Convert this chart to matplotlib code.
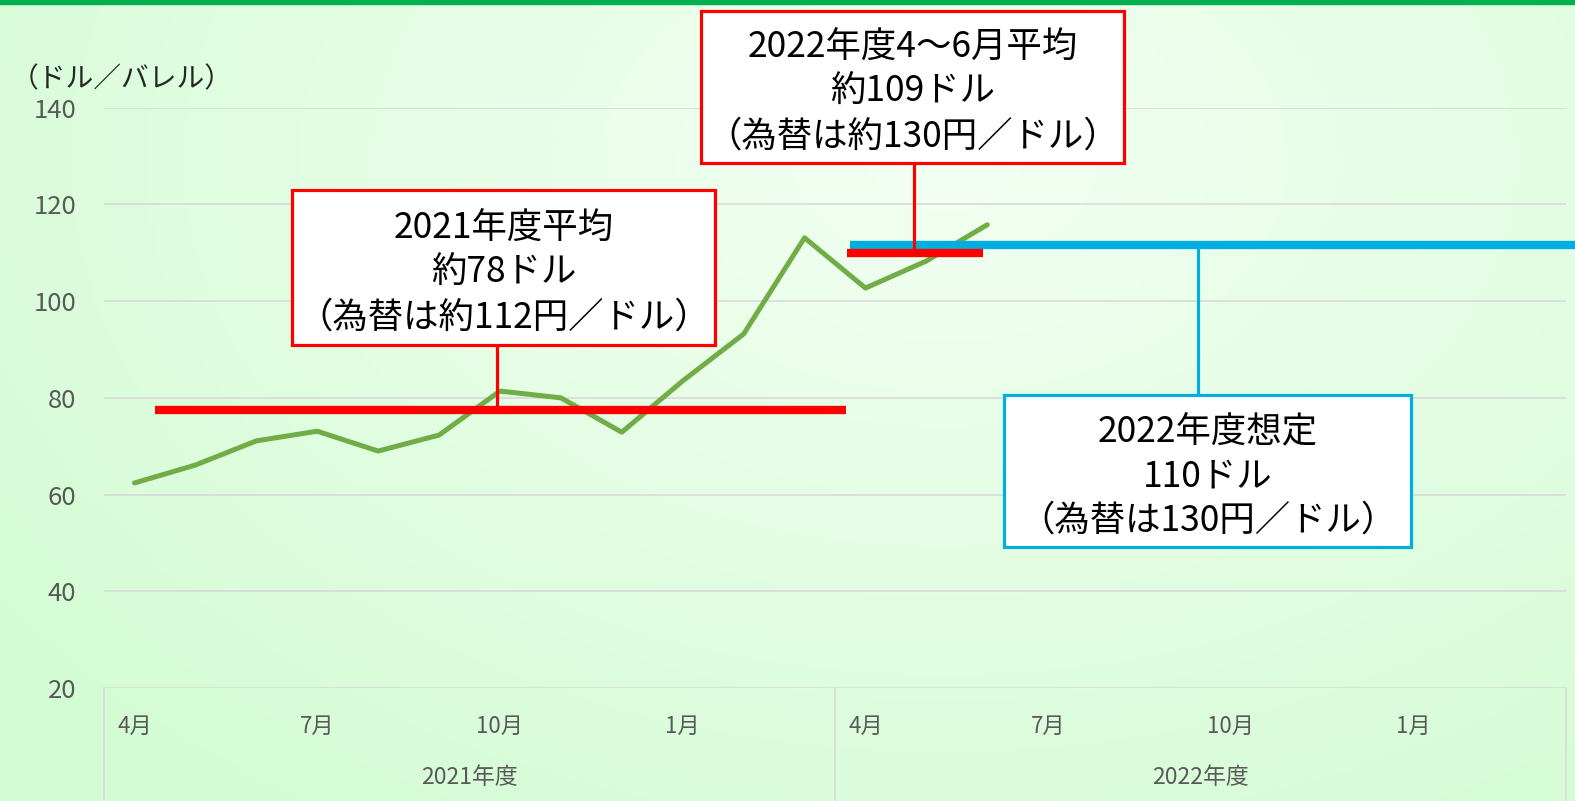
import numpy as np
import matplotlib.pyplot as plt
from matplotlib.patches import Rectangle
from matplotlib.transforms import blended_transform_factory

plt.rcParams['font.family'] = ['Noto Sans CJK JP', 'DejaVu Sans']

# monthly crude price (USD/bbl), Apr 2021 - Jun 2022
months = ['4月', '5月', '6月', '7月', '8月', '9月', '10月', '11月', '12月', '1月', '2月', '3月'] * 2
price = [62.4, 66.1, 71.1, 73.1, 69.0, 72.3, 81.4, 80.0, 72.9, 83.5, 93.2, 113.1,
         102.7, 108.3, 115.8]
years = ['2021年度', '2022年度']
avg_2021 = 77.5
avg_2022q2 = 109.9
assumed_2022 = 111.6
yticks = [20, 40, 60, 80, 100, 120, 140]

fig = plt.figure(figsize=(15.75, 8.01), dpi=100)

# background gradient
bg = fig.add_axes([0, 0, 1, 1], zorder=0)
gx, gy = np.meshgrid(np.linspace(0, 1, 400), np.linspace(0, 1, 200))
r = np.sqrt(((gx - 0.6) / 0.75) ** 2 + ((gy - 0.8) / 1.0) ** 2)
r = np.clip(r, 0, 1)
c0 = np.array([243, 255, 243]) / 255
c1 = np.array([212, 252, 212]) / 255
img = c0[None, None, :] * (1 - r[..., None]) + c1[None, None, :] * r[..., None]
bg.imshow(img, origin='lower', extent=[0, 1, 0, 1], aspect='auto')
bg.axis('off')
fig.patches.append(Rectangle((0, 1 - 4 / 801), 1, 4 / 801, transform=fig.transFigure,
                             color='#00B050', zorder=5))

ax = fig.add_axes([104 / 1575, 1 - 688 / 801, 1462 / 1575, 580.3 / 801], zorder=1)
ax.set_facecolor('none')
ax.set_xlim(-0.5, 23.5)
ax.set_ylim(20, 140)
for s in ax.spines.values():
    s.set_visible(False)
ax.set_yticks(yticks)
ax.tick_params(axis='y', length=0, pad=20, labelsize=18.5, labelcolor='#595959')
ax.set_xticks([])
ax.grid(axis='y', color='#d9d9d9', lw=1.2)
ax.set_axisbelow(True)

x = np.arange(len(price))
ax.plot(x, price, color='#70AD47', lw=3.6, solid_capstyle='round', zorder=3)

# category axis labels
tr = blended_transform_factory(ax.transData, ax.transAxes)
for i, m in enumerate(months):
    if i % 3 == 0:
        ax.text(i, -0.0655, m, transform=tr, ha='center', va='center',
                fontsize=16, color='#595959')
for j, yname in enumerate(years):
    ax.text(j * 12 + 5.5, -0.155, yname, transform=tr, ha='center', va='center',
            fontsize=16.5, color='#595959')
for xs in [-0.5, 11.5, 23.5]:
    ax.plot([xs, xs], [0, -0.25], transform=tr, color='#d9d9d9', lw=1.2, clip_on=False)

fig.text(11 / 1575, 1 - 79 / 801, '（ドル／バレル）', ha='left', va='center',
         fontsize=20, color='#262626')

# average lines
ax.plot([0.34, 11.68], [avg_2021, avg_2021], color='#FF0000', lw=6, solid_capstyle='butt', zorder=4)
ax.plot([11.75, 23.7], [assumed_2022, assumed_2022], color='#00AEDF', lw=6,
        solid_capstyle='butt', zorder=4, clip_on=False)
ax.plot([11.70, 13.93], [avg_2022q2, avg_2022q2], color='#FF0000', lw=6, solid_capstyle='butt', zorder=5)


def callout(x0, x1, y0, y1, cx, cy_to, color, text):
    ax.add_patch(Rectangle((x0, y0), x1 - x0, y1 - y0, facecolor='white', edgecolor=color,
                           lw=2.3, zorder=6, clip_on=False))
    cy_from = y0 if cy_to < y0 else y1
    ax.plot([cx, cx], [cy_from, cy_to], color=color, lw=2.3, zorder=4, clip_on=False)
    ax.text((x0 + x1) / 2, (y0 + y1) / 2 - 1.1, text, ha='center', va='center', fontsize=25.5,
            linespacing=1.3, color='black', zorder=7)


callout(2.59, 9.53, 90.9, 123.0, 5.95, avg_2021, '#FF0000',
        '2021年度平均\n約78ドル\n（為替は約112円／ドル）')
callout(9.30, 16.25, 128.6, 160.0, 12.8, avg_2022q2, '#FF0000',
        '2022年度4〜6月平均\n約109ドル\n（為替は約130円／ドル）')
callout(14.28, 20.96, 49.1, 80.6, 17.46, assumed_2022, '#00AEDF',
        '2022年度想定\n110ドル\n（為替は130円／ドル）')

fig.savefig('out.png', dpi=100)
